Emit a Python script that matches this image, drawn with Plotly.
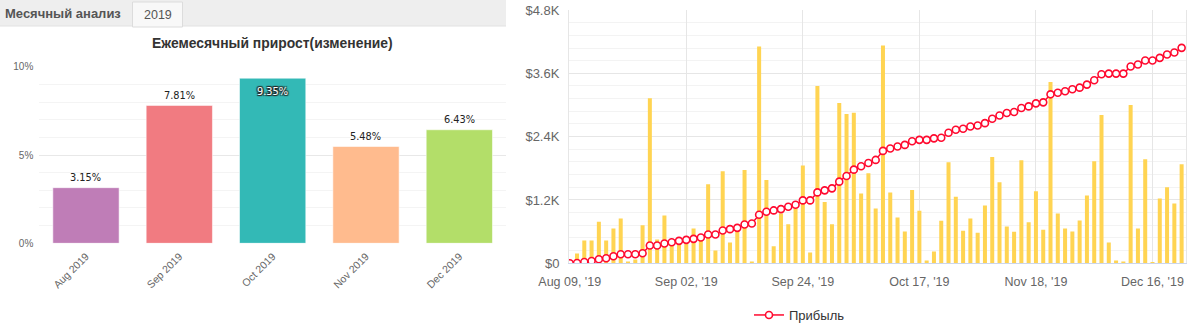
import plotly.graph_objects as go

W, H = 1197, 331

# ---------- Left chart data ----------
months = ["Aug 2019", "Sep 2019", "Oct 2019", "Nov 2019", "Dec 2019"]
monthly_growth = [3.15, 7.81, 9.35, 5.48, 6.43]
month_colors = ["#bf7db7", "#f17b81", "#33b9b6", "#ffbb8e", "#b3de69"]
pct_ticks = [0, 5, 10]
pct_labels = ["0%", "5%", "10%"]

# ---------- Right chart data ----------
daily_bars = [0, 184, 431, 431, 786, 431, 659, 850, 32, 70,
              723, 3126, 450, 907, 370, 360, 368, 659, 444, 1496,
              241, 1744, 393, 640, 1769, 32, 4108, 1579, 323, 945,
              742, 1033, 1851, 203, 3360, 1160, 742, 3037, 2828, 2853,
              1325, 1705, 1040, 4127, 1344, 869, 602, 1388, 995, 51,
              222, 805, 1915, 1262, 615, 850, 577, 1097, 2016, 1534,
              697, 596, 1953, 780, 1363, 634, 3436, 945, 659, 602,
              812, 1287, 1934, 2809, 393, 51, 32, 2999, 659, 1972,
              13, 1230, 1439, 1135, 1877]
profit = [0, 5, 25, 45, 76, 95, 133, 171, 171, 171,
          190, 336, 336, 374, 400, 425, 444, 463, 488, 545,
          545, 621, 647, 672, 735, 754, 919, 976, 1002, 1027,
          1071, 1110, 1192, 1192, 1344, 1382, 1420, 1547, 1655, 1775,
          1839, 1902, 1959, 2130, 2175, 2213, 2244, 2314, 2339, 2339,
          2368, 2378, 2473, 2530, 2549, 2593, 2612, 2656, 2739, 2802,
          2847, 2866, 2942, 2973, 3031, 3050, 3202, 3233, 3259, 3297,
          3329, 3386, 3468, 3582, 3595, 3595, 3595, 3728, 3766, 3842,
          3842, 3893, 3956, 3994, 4083]
point_index = list(range(len(profit)))
date_tick_index = [0, 16, 32, 48, 64, 80]
date_tick_labels = ["Aug 09, '19", "Sep 02, '19", "Sep 24, '19",
                    "Oct 17, '19", "Nov 18, '19", "Dec 16, '19"]
money_ticks = [0, 1200, 2400, 3600, 4800]
money_labels = ["$0", "$1.2K", "$2.4K", "$3.6K", "$4.8K"]


def px(x):
    return x / W


def py(y):
    return 1 - y / H


FONT = "Liberation Sans, Arial, sans-serif"

fig = go.Figure()

fig.add_trace(go.Bar(
    x=months, y=monthly_growth, xaxis="x", yaxis="y",
    marker=dict(color=month_colors, line=dict(color="rgba(255,255,255,0.55)", width=1)),
    width=0.71, showlegend=False, hoverinfo="skip",
))

fig.add_trace(go.Bar(
    x=point_index, y=daily_bars, xaxis="x2", yaxis="y2",
    marker=dict(color="#ffd452", line=dict(width=0)),
    width=0.55, showlegend=False, hoverinfo="skip",
))

fig.add_trace(go.Scatter(
    x=point_index, y=profit, xaxis="x2", yaxis="y2",
    mode="lines+markers", name="Прибыль",
    line=dict(color="#ff0a2f", width=1.5),
    marker=dict(symbol="circle", size=7, color="white",
                line=dict(color="#ff0a2f", width=1.6)),
))

annotations = []
for m, v in zip(months, monthly_growth):
    inside = v == max(monthly_growth)
    font = dict(family="DejaVu Sans, sans-serif", size=9.8,
                color="white" if inside else "#222")
    if inside:
        font["shadow"] = "1px 1px 1px #222, -1px -1px 1px #222, 1px -1px 1px #222, -1px 1px 1px #222"
    annotations.append(dict(
        x=m, y=v, xref="x", yref="y", text=f"{v:.2f}%", showarrow=False,
        yshift=-13 if inside else 10, font=font,
    ))

annotations += [
    dict(x=px(272.5), y=py(43), xref="paper", yref="paper", showarrow=False,
         xanchor="center", yanchor="middle",
         text="<b>Ежемесячный прирост(изменение)</b>",
         font=dict(family=FONT, size=13.9, color="#333")),
    dict(x=px(3), y=py(14), xref="paper", yref="paper", showarrow=False,
         xanchor="left", yanchor="middle", text="<b>Месячный анализ</b>",
         font=dict(family=FONT, size=13, color="#555")),
    dict(x=px(157.7), y=py(14.5), xref="paper", yref="paper", showarrow=False,
         xanchor="center", yanchor="middle",
         text="2019", font=dict(family=FONT, size=12.5, color="#555")),
]

shapes = [
    dict(type="rect", xref="paper", yref="paper", x0=px(0), x1=px(506), y0=py(0), y1=py(26),
         fillcolor="#eeeeee", line=dict(width=0), layer="below"),
    dict(type="line", xref="paper", yref="paper", x0=px(0), x1=px(506), y0=py(26), y1=py(26),
         line=dict(color="#e2e2e2", width=1), layer="below"),
    dict(type="rect", xref="paper", yref="paper", x0=px(132.5), x1=px(182.5), y0=py(2), y1=py(27),
         fillcolor="#f8f8f8", line=dict(color="#dcdcdc", width=1), layer="below"),
]

fig.update_layout(
    width=W, height=H, margin=dict(l=0, r=0, t=0, b=0, autoexpand=False),
    paper_bgcolor="white", plot_bgcolor="white",
    font=dict(family=FONT, color="#666"),
    xaxis=dict(domain=[px(39.3), px(506)], type="category", showgrid=False,
               tickangle=-45, tickfont=dict(size=10.5, color="#666"),
               showline=False, zeroline=False, ticklabelstandoff=4,
               automargin=False),
    yaxis=dict(domain=[py(243.3), py(66.7)], range=[0, 10],
               tickvals=pct_ticks, ticktext=pct_labels,
               tickfont=dict(size=10, color="#666"),
               showgrid=True, gridcolor="#e8e8e8", gridwidth=1, zeroline=False,
               minor=dict(dtick=1, showgrid=True, gridcolor="#f4f4f4"),
               ticklabelstandoff=5, anchor="x", automargin=False),
    xaxis2=dict(domain=[px(569), px(1186)], range=[-0.1, 84.6], anchor="y2",
                tickvals=date_tick_index, ticktext=date_tick_labels,
                tickfont=dict(size=12.5, color="#666"),
                showgrid=True, gridcolor="#e6e6e6", zeroline=False,
                showline=True, linecolor="#ccd6eb", linewidth=1,
                ticklabelstandoff=7, automargin=False),
    yaxis2=dict(domain=[py(263.3), py(10)], range=[0, 4800], anchor="x2",
                tickvals=money_ticks, ticktext=money_labels,
                tickfont=dict(size=13, color="#666"),
                showgrid=True, gridcolor="#e6e6e6", zeroline=False,
                showline=True, linecolor="#e6e6e6", mirror=True,
                minor=dict(dtick=240, showgrid=True, gridcolor="#f3f3f3"),
                ticklabelstandoff=6, automargin=False),
    legend=dict(x=px(749), y=py(315), xanchor="left", yanchor="middle",
                orientation="h", font=dict(size=13, color="#333"),
                bgcolor="rgba(0,0,0,0)"),
    annotations=annotations, shapes=shapes,
)

fig.write_html("out.html")
